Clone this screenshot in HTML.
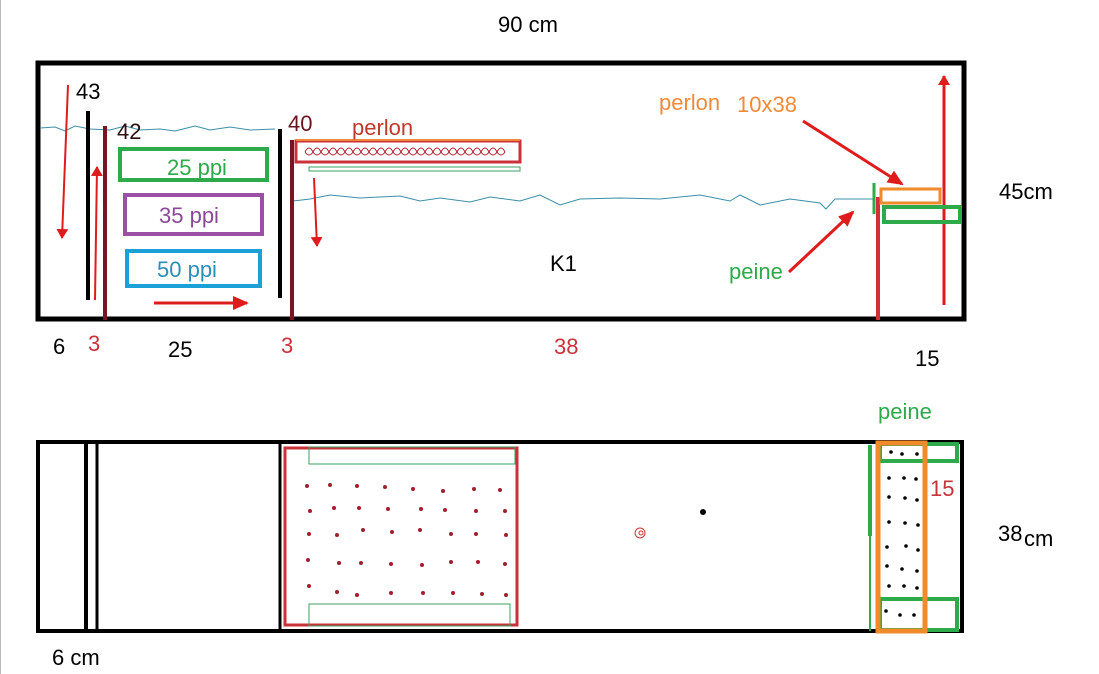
<!DOCTYPE html>
<html><head><meta charset="utf-8"><style>
html,body{margin:0;padding:0;background:#fff;}
svg{display:block;}
text{font-family:"Liberation Sans",sans-serif;font-size:22px;}
</style></head><body>
<svg width="1099" height="674" viewBox="0 0 1099 674" xmlns="http://www.w3.org/2000/svg">
<defs>
<marker id="ah" markerWidth="10" markerHeight="12" refX="9" refY="6" orient="auto" markerUnits="userSpaceOnUse" viewBox="0 0 10 12"><path d="M0,0 L10,6 L0,12 z" fill="#e01b1b"/></marker>
<marker id="ah2" markerWidth="16" markerHeight="14" refX="14" refY="7" orient="auto" markerUnits="userSpaceOnUse" viewBox="0 0 16 14"><path d="M0,0 L16,7 L0,14 z" fill="#e01b1b"/></marker>
</defs>
<line x1="0.5" y1="0" x2="0.5" y2="674" stroke="#bbb"/>
<text x="498" y="32">90 cm</text>
<!-- top tank -->
<rect x="38" y="63" width="926" height="256" fill="none" stroke="#000" stroke-width="5"/>
<path d="M40,128 L55,127 L65,131 L75,126 L90,129 L110,130 L125,126 L140,130 L160,129 L175,131 L195,126 L210,130 L230,127 L250,130 L275,129" fill="none" stroke="#3a8fa8" stroke-width="1"/>
<path d="M293,201 L310,199 L330,195 L360,198 L400,196 L420,201 L440,198 L470,202 L490,197 L520,201 L540,195 L560,205 L580,199 L620,198 L660,199 L700,195 L730,201 L740,195 L760,205 L790,199 L820,203 L826,209 L835,199 L875,199" fill="none" stroke="#3a8fa8" stroke-width="1"/>
<line x1="88" y1="111" x2="88" y2="300" stroke="#000" stroke-width="4"/>
<line x1="105" y1="126" x2="105" y2="320" stroke="#7a1422" stroke-width="4"/>
<line x1="280" y1="129" x2="280" y2="298" stroke="#000" stroke-width="4"/>
<line x1="292" y1="140" x2="292" y2="320" stroke="#7a1422" stroke-width="4"/>
<rect x="120" y="149" width="147" height="31" fill="none" stroke="#2eaa4a" stroke-width="4"/>
<text x="167" y="175" fill="#2eaa4a">25 ppi</text>
<rect x="125" y="195" width="137" height="39" fill="none" stroke="#9b4fa5" stroke-width="4"/>
<text x="159" y="223" fill="#8a4a96">35 ppi</text>
<rect x="127" y="251" width="133" height="35" fill="none" stroke="#1aa1d8" stroke-width="4"/>
<text x="157" y="277" fill="#2a8fb8">50 ppi</text>
<rect x="296" y="141" width="224" height="21" fill="none" stroke="#c8323a" stroke-width="3"/>
<line x1="296" y1="140" x2="520" y2="140" stroke="#f08a3a" stroke-width="2"/>
<path d="M305,152 q4,-8 8,0 q4,-8 8,0 q4,-8 8,0 q4,-8 8,0 q4,-8 8,0 q4,-8 8,0 q4,-8 8,0 q4,-8 8,0 q4,-8 8,0 q4,-8 8,0 q4,-8 8,0 q4,-8 8,0 q4,-8 8,0 q4,-8 8,0 q4,-8 8,0 q4,-8 8,0 q4,-8 8,0 q4,-8 8,0 q4,-8 8,0 q4,-8 8,0 q4,-8 8,0 q4,-8 8,0 q4,-8 8,0 q4,-8 8,0 q4,-8 8,0 M305,152 q4,6 8,0 q4,6 8,0 q4,6 8,0 q4,6 8,0 q4,6 8,0 q4,6 8,0 q4,6 8,0 q4,6 8,0 q4,6 8,0 q4,6 8,0 q4,6 8,0 q4,6 8,0 q4,6 8,0 q4,6 8,0 q4,6 8,0 q4,6 8,0 q4,6 8,0 q4,6 8,0 q4,6 8,0 q4,6 8,0 q4,6 8,0 q4,6 8,0 q4,6 8,0 q4,6 8,0 q4,6 8,0" fill="none" stroke="#b02030" stroke-width="1"/>
<rect x="309" y="167" width="211" height="4" fill="none" stroke="#3aa060" stroke-width="1"/>
<text x="288" y="131" fill="#6a1420">40</text>
<text x="352" y="135" fill="#c0392b">perlon</text>
<text x="76" y="99" fill="#000">43</text>
<text x="117" y="139" fill="#2a1010">42</text>
<!-- arrows -->
<line x1="68" y1="85" x2="62" y2="238" stroke="#e01b1b" stroke-width="2" marker-end="url(#ah)"/>
<line x1="95" y1="300" x2="97" y2="167" stroke="#e01b1b" stroke-width="2" marker-end="url(#ah)"/>
<line x1="154" y1="303" x2="247" y2="303" stroke="#e01b1b" stroke-width="3" marker-end="url(#ah2)"/>
<line x1="314" y1="178" x2="317" y2="246" stroke="#e01b1b" stroke-width="2" marker-end="url(#ah)"/>
<line x1="944" y1="305" x2="944" y2="76" stroke="#e01b1b" stroke-width="3" marker-end="url(#ah)"/>
<line x1="803" y1="121" x2="902" y2="184" stroke="#e01b1b" stroke-width="3" marker-end="url(#ah2)"/>
<line x1="789" y1="272" x2="853" y2="212" stroke="#e01b1b" stroke-width="3" marker-end="url(#ah2)"/>
<!-- right side top -->
<line x1="878" y1="197" x2="878" y2="320" stroke="#d0303a" stroke-width="4"/>
<line x1="874" y1="183" x2="874" y2="214" stroke="#2eaa4a" stroke-width="3"/>
<rect x="881" y="189" width="59" height="14" fill="none" stroke="#f08a2a" stroke-width="3"/>
<rect x="884" y="207" width="76" height="15" fill="none" stroke="#2eaa4a" stroke-width="4"/>
<text x="659" y="110" fill="#f08a3a">perlon</text>
<text x="737" y="112" fill="#f08a3a">10x38</text>
<text x="999" y="199" fill="#000">45cm</text>
<text x="550" y="271" fill="#000">K1</text>
<text x="729" y="279" fill="#2eaa4a">peine</text>
<text x="53" y="354" fill="#000">6</text>
<text x="88" y="351" fill="#c8323a">3</text>
<text x="168" y="357" fill="#000">25</text>
<text x="281" y="353" fill="#c8323a">3</text>
<text x="554" y="354" fill="#c8323a">38</text>
<text x="915" y="366" fill="#000">15</text>
<text x="878" y="419" fill="#2eaa4a">peine</text>
<!-- bottom tank -->
<rect x="38" y="442" width="924" height="189" fill="none" stroke="#000" stroke-width="4"/>
<line x1="86" y1="443" x2="86" y2="633" stroke="#000" stroke-width="4"/>
<line x1="97" y1="443" x2="97" y2="633" stroke="#000" stroke-width="3"/>
<line x1="280" y1="443" x2="280" y2="633" stroke="#000" stroke-width="3"/>
<rect x="285" y="448" width="232" height="177" fill="none" stroke="#c8323a" stroke-width="3"/>
<rect x="309" y="447" width="206" height="17" fill="none" stroke="#3aa060" stroke-width="1"/>
<rect x="309" y="604" width="201" height="22" fill="none" stroke="#3aa060" stroke-width="1"/>
<g fill="#a02030">
<circle cx="307" cy="486" r="2"/><circle cx="330" cy="485" r="2"/><circle cx="357" cy="486" r="2"/><circle cx="385" cy="487" r="2"/><circle cx="413" cy="489" r="2"/><circle cx="443" cy="491" r="2"/><circle cx="474" cy="489" r="2"/><circle cx="500" cy="490" r="2"/>
<circle cx="310" cy="511" r="2"/><circle cx="334" cy="508" r="2"/><circle cx="359" cy="508" r="2"/><circle cx="388" cy="509" r="2"/><circle cx="421" cy="509" r="2"/><circle cx="445" cy="510" r="2"/><circle cx="476" cy="511" r="2"/><circle cx="505" cy="511" r="2"/>
<circle cx="309" cy="534" r="2"/><circle cx="337" cy="535" r="2"/><circle cx="363" cy="530" r="2"/><circle cx="392" cy="532" r="2"/><circle cx="420" cy="530" r="2"/><circle cx="451" cy="534" r="2"/><circle cx="476" cy="534" r="2"/><circle cx="506" cy="535" r="2"/>
<circle cx="308" cy="560" r="2"/><circle cx="339" cy="563" r="2"/><circle cx="361" cy="563" r="2"/><circle cx="391" cy="564" r="2"/><circle cx="422" cy="565" r="2"/><circle cx="451" cy="562" r="2"/><circle cx="478" cy="562" r="2"/><circle cx="505" cy="564" r="2"/>
<circle cx="309" cy="586" r="2"/><circle cx="337" cy="592" r="2"/><circle cx="357" cy="595" r="2"/><circle cx="391" cy="593" r="2"/><circle cx="423" cy="593" r="2"/><circle cx="453" cy="593" r="2"/><circle cx="482" cy="594" r="2"/><circle cx="506" cy="595" r="2"/>
</g>
<circle cx="640" cy="533" r="5" fill="none" stroke="#c8323a" stroke-width="1"/>
<circle cx="641" cy="533" r="2" fill="none" stroke="#c8323a" stroke-width="1"/>
<circle cx="703" cy="512" r="3" fill="#000"/>
<line x1="870" y1="445" x2="870" y2="536" stroke="#2eaa4a" stroke-width="4"/>
<line x1="870" y1="536" x2="870" y2="631" stroke="#2eaa4a" stroke-width="2"/>
<rect x="880" y="444" width="77" height="17" fill="none" stroke="#2eaa4a" stroke-width="4"/>
<rect x="880" y="599" width="77" height="31" fill="none" stroke="#2eaa4a" stroke-width="4"/>
<rect x="878" y="443" width="47" height="188" fill="none" stroke="#f08a2a" stroke-width="5"/>
<g fill="#000">
<circle cx="891" cy="452" r="1.8"/><circle cx="902" cy="454" r="1.8"/><circle cx="917" cy="454" r="1.8"/>
<circle cx="889" cy="478" r="1.8"/><circle cx="904" cy="478" r="1.8"/><circle cx="916" cy="479" r="1.8"/>
<circle cx="889" cy="497" r="1.8"/><circle cx="905" cy="498" r="1.8"/><circle cx="917" cy="500" r="1.8"/>
<circle cx="889" cy="522" r="1.8"/><circle cx="905" cy="523" r="1.8"/><circle cx="918" cy="525" r="1.8"/>
<circle cx="887" cy="547" r="1.8"/><circle cx="906" cy="546" r="1.8"/><circle cx="918" cy="550" r="1.8"/>
<circle cx="887" cy="566" r="1.8"/><circle cx="902" cy="569" r="1.8"/><circle cx="917" cy="571" r="1.8"/>
<circle cx="889" cy="586" r="1.8"/><circle cx="904" cy="586" r="1.8"/><circle cx="917" cy="588" r="1.8"/>
<circle cx="886" cy="611" r="1.8"/><circle cx="900" cy="615" r="1.8"/><circle cx="914" cy="615" r="1.8"/>
</g>
<text x="930" y="496" fill="#c8323a">15</text>
<text x="998" y="541" fill="#000">38</text><text x="1024" y="546" fill="#000">cm</text>
<text x="52" y="665" fill="#000">6 cm</text>
</svg>
</body></html>
